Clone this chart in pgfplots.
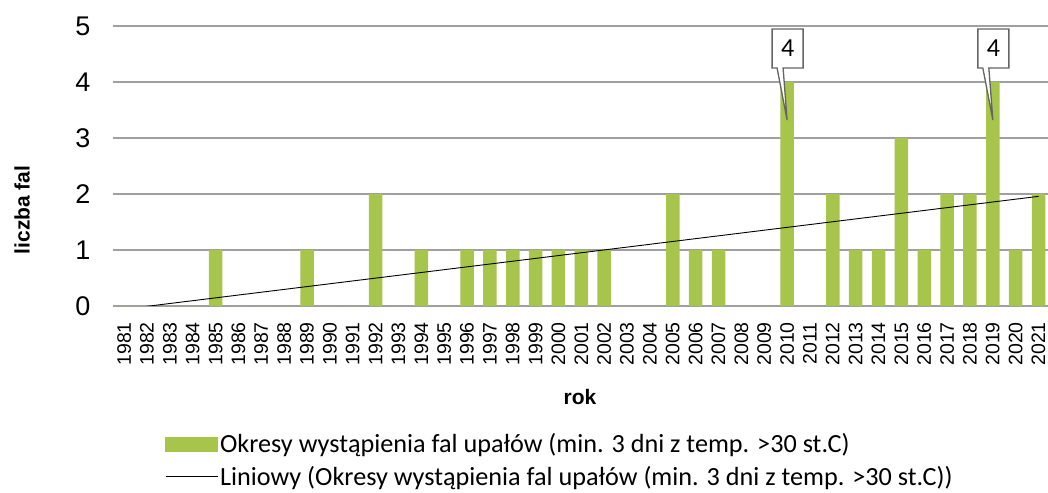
\documentclass[border=0pt]{standalone}
\usepackage{pgfplots}
\pgfplotsset{compat=1.18}
\usepackage{pgfplotstable}
\usepackage{fontspec}
\setmainfont{Liberation Sans}
\newfontfamily\calib{Carlito}
\definecolor{bargreen}{RGB}{167,196,75}
\definecolor{gridgray}{RGB}{160,160,160}
\definecolor{callgray}{RGB}{100,100,100}

\pgfplotstableread{
year val
1981 0
1982 0
1983 0
1984 0
1985 1
1986 0
1987 0
1988 0
1989 1
1990 0
1991 0
1992 2
1993 0
1994 1
1995 0
1996 1
1997 1
1998 1
1999 1
2000 1
2001 1
2002 1
2003 0
2004 0
2005 2
2006 1
2007 1
2008 0
2009 0
2010 4
2011 0
2012 2
2013 1
2014 1
2015 3
2016 1
2017 2
2018 2
2019 4
2020 1
2021 2
}\datatable

\pgfplotstableread{
year val
1981 -0.0561
2021 1.958
}\trendtable

\begin{document}
\begin{tikzpicture}
\begin{axis}[
  at={(112.7bp,187bp)}, anchor=south west,
  scale only axis, width=937.3bp, height=280bp,
  xmin=1980.5, xmax=2021.5, ymin=0, ymax=5,
  xtick={1981,...,2021}, ytick={0,...,5},
  ymajorgrids, major grid style={gridgray, line width=1.3bp},
  axis line style={draw=none},
  major tick length=0pt,
  /pgf/number format/assume math mode=true,
  /pgf/number format/1000 sep={},
  xticklabel style={font=\fontsize{19.5bp}{22bp}\selectfont, text=black,
    rotate=90, anchor=east, inner sep=0pt},
  xticklabel shift=16bp,
  yticklabel style={font=\fontsize{27bp}{30bp}\selectfont, text=black,
    inner sep=0pt},
  yticklabel shift=22bp,
  legend cell align=left,
  legend style={at={(axis description cs:0.0558,-0.448)}, anchor=north west,
    draw=none, fill=none, inner sep=0pt,
    font=\calib\fontsize{26.2bp}{30bp}\selectfont, row sep=8bp,
    nodes={inner sep=2bp}},
]
\addplot[ybar, bar width=13.5bp, fill=bargreen, draw=none, forget plot]
  table[x=year, y=val]{\datatable};
\addplot[sharp plot, black, line width=0.9bp, forget plot, mark=none]
  table[x=year, y=val]{\trendtable};
\addlegendimage{legend image code/.code={\fill[bargreen] (0bp,-7bp) rectangle (52bp,7bp);}}
\addlegendentry{Okresy wystąpienia fal upałów (min. 3 dni z temp. >30 st.C)}
\addlegendimage{legend image code/.code={\draw[black, line width=0.9bp] (0bp,0bp) -- (52bp,0bp);}}
\addlegendentry{Liniowy (Okresy wystąpienia fal upałów (min. 3 dni z temp. >30 st.C))}
\coordinate (c1) at (axis cs:2010,3.32);
\coordinate (c2) at (axis cs:2019,3.32);
\end{axis}
\foreach \c in {c1,c2}{
  \begin{scope}[shift={(\c)}]
    \filldraw[fill=white, draw=callgray, line width=1.3bp, line join=miter]
      (-15bp,91bp) -- (16bp,91bp) -- (16bp,52bp) -- (-4bp,52bp) -- (0bp,0bp)
      -- (-10bp,52bp) -- (-15bp,52bp) -- cycle;
    \node[font=\calib\fontsize{26bp}{30bp}\selectfont, inner sep=0pt] at (0.5bp,71.5bp) {4};
  \end{scope}
}
\node[rotate=90, font=\bfseries\fontsize{21bp}{24bp}\selectfont] at (22bp,283bp) {liczba fal};
\node[font=\bfseries\fontsize{21bp}{24bp}\selectfont] at (580bp,96bp) {rok};
\pgfresetboundingbox
\useasboundingbox (0bp,0bp) rectangle (1048bp,493bp);
\end{tikzpicture}
\end{document}
